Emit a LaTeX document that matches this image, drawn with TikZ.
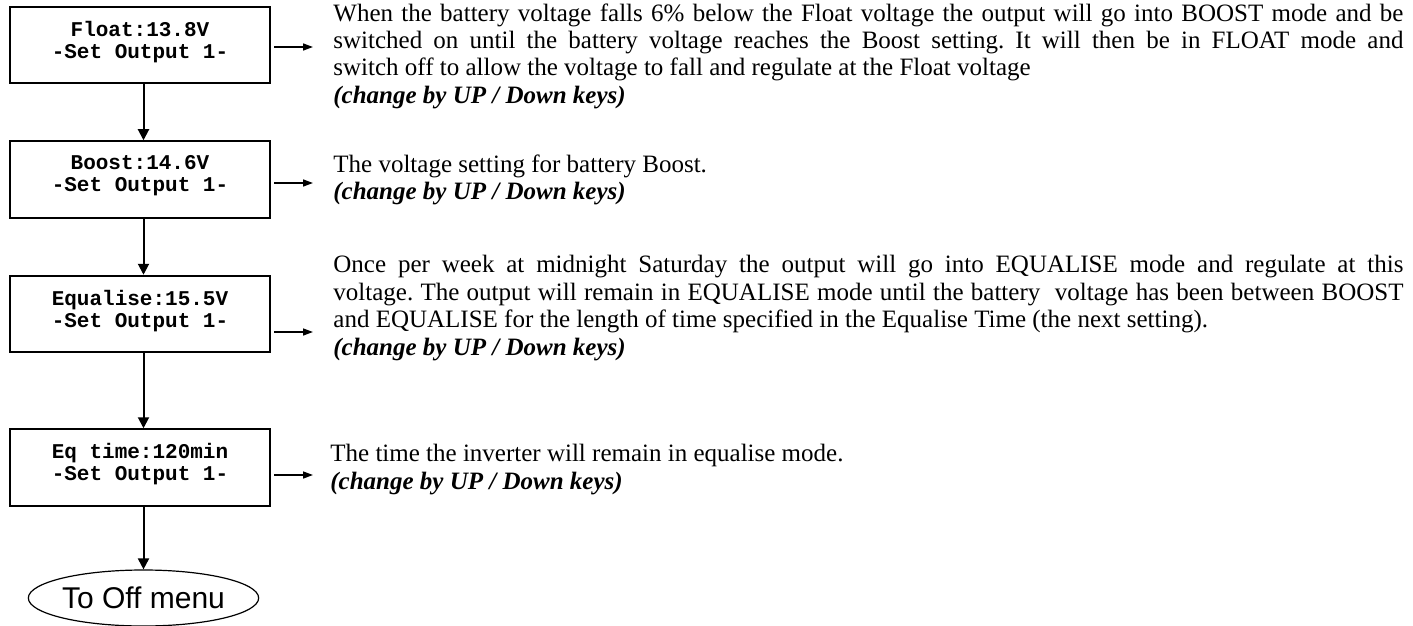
\documentclass[tikz,border=0pt]{standalone}
\usepackage{fontspec}
\setmainfont{Liberation Serif}
\newfontfamily\lcdfont{Liberation Mono}
\newfontfamily\arialfont{Liberation Sans}
\usepackage{tikz}
\usetikzlibrary{arrows.meta, positioning, shapes.geometric, calc}

\frenchspacing
\newcommand{\keyhint}{\textbf{\textit{(change by UP / Down keys)}}}
\newcommand{\lcdtype}{\lcdfont\bfseries\fontsize{10.5}{11}\selectfont\lineskiplimit=-6pt\relax}

\tikzset{
  menubox/.style={draw, line width=1pt, minimum width=130pt, minimum height=38.25pt, inner sep=0pt},
  lcd/.style={font=\lcdtype, align=center, inner sep=0pt, anchor=north},
  note/.style={font=\fontsize{12.5}{13.75}\selectfont, text width=535pt, align=justify, inner sep=0pt, anchor=north west},
  flow/.style={-{Triangle[length=5.5pt,width=5.5pt]}, line width=1pt},
  side/.style={-{Triangle[length=5pt,width=3.5pt]}, line width=0.75pt, shorten <=1.5pt},
}

\begin{document}
\begin{tikzpicture}[x=0.5pt, y=-0.5pt]
      \useasboundingbox (0,0) rectangle (1413,626);

      \node[menubox] (float) at (140,45) {};
      \node[lcd] at ([yshift=-7.5pt]float.north) {Float:13.8V\\-Set Output 1-};
      \node[menubox] (boost) at (140,179.5) {};
      \node[lcd] at ([yshift=-7.5pt]boost.north) {Boost:14.6V\\-Set Output 1-};
      \node[menubox] (equal) at (140,314) {};
      \node[lcd] at ([yshift=-7.5pt]equal.north) {Equalise:15.5V\\-Set Output 1-};
      \node[menubox] (eqtime) at (140,467.5) {};
      \node[lcd] at ([yshift=-7.5pt]eqtime.north) {Eq time:120min\\-Set Output 1-};

      \node[ellipse, draw, line width=0.6pt, minimum width=114.5pt, minimum height=28pt, inner sep=0pt,
            font=\arialfont\fontsize{15}{16}\selectfont] (offmenu) at (143.5,598) {To Off menu};

      \draw[flow] (float.south -| offmenu) -- (boost.north -| offmenu);
      \draw[flow] (boost.south -| offmenu) -- (equal.north -| offmenu);
      \draw[flow] (equal.south -| offmenu) -- (eqtime.north -| offmenu);
      \draw[flow] (eqtime.south -| offmenu) -- (offmenu.north);

      % descriptions
      \node[note] (floatnote) at (333,3) {When the battery voltage falls 6\% below the Float voltage the output will go into BOOST mode and be\linebreak
        switched on until the battery voltage reaches the Boost setting. It will then be in FLOAT mode and\linebreak
        switch off to allow the voltage to fall and regulate at the Float voltage\\ \keyhint};
      \node[note] (boostnote) at (333,154) {The voltage setting for battery Boost.\\ \keyhint};
      \node[note] (equalnote) at (333,255) {Once per week at midnight Saturday the output will go into EQUALISE mode and regulate at this\linebreak
        voltage. The output will remain in EQUALISE mode until the battery\ \ voltage has been between BOOST\linebreak
        and EQUALISE for the length of time specified in the Equalise Time (the next setting).\\ \keyhint};
      \node[note] (eqtimenote) at (330,444) {The time the inverter will remain in equalise mode.\\ \keyhint};

      \coordinate (floatin) at (313,47);
      \coordinate (boostin) at (313,183);
      \coordinate (equalin) at (313,332);
      \coordinate (eqtimein) at (313,475);
      \draw[side] (float.east |- floatin) -- (floatin);
      \draw[side] (boost.east |- boostin) -- (boostin);
      \draw[side] (equal.east |- equalin) -- (equalin);
      \draw[side] (eqtime.east |- eqtimein) -- (eqtimein);
    \end{tikzpicture}
\end{document}
